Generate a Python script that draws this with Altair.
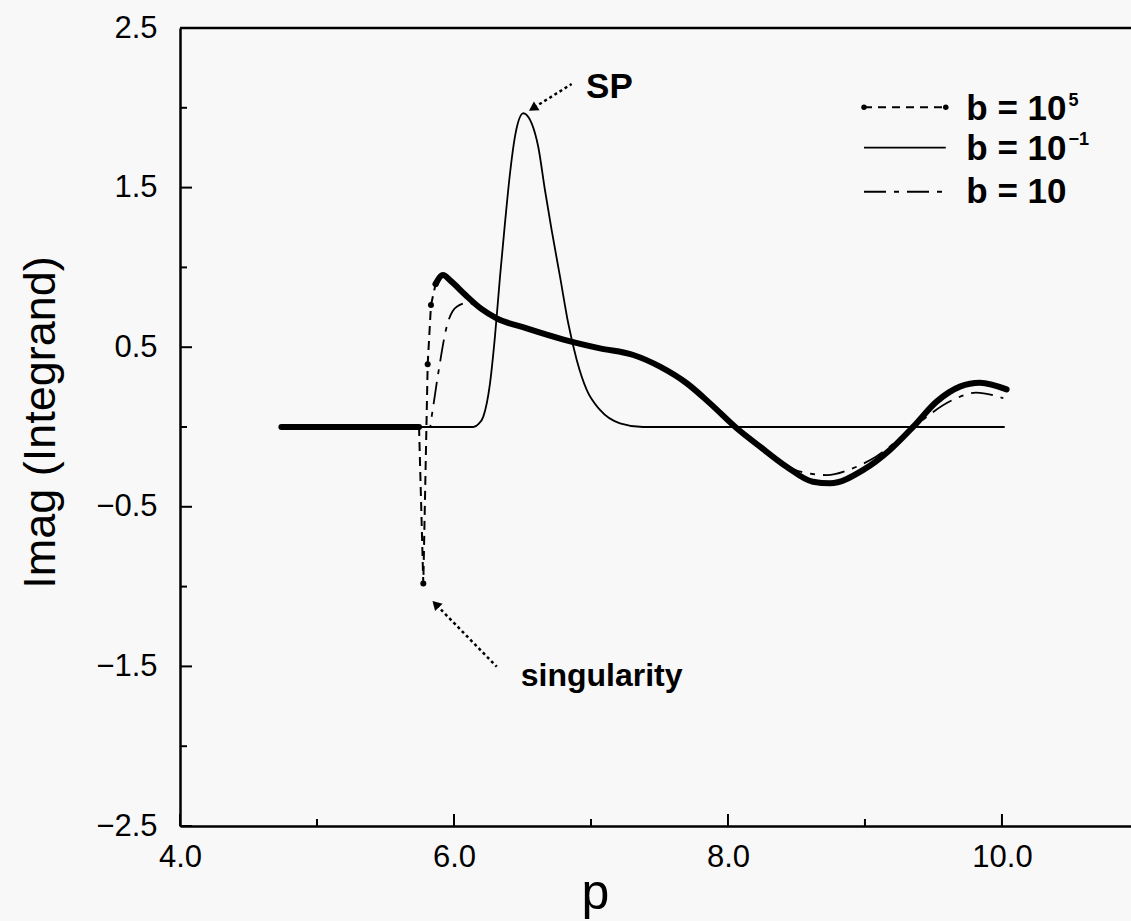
import altair as alt
import pandas as pd

# ---- curves ----
# b = 1e5: flat lead-in (dense samples), sparse jump through the singularity, dense main curve
b5_flat_x = [4.74, 5.745]
b5_flat_y = [0.0, 0.0]
b5_jump_x = [5.745, 5.776, 5.808, 5.832, 5.866]
b5_jump_y = [0.0, -0.98, 0.393, 0.764, 0.896]
b5_x = [5.866, 5.92, 5.97, 6.08, 6.20, 6.312, 6.531, 6.80, 7.066, 7.309, 7.504,
        7.699, 7.869, 8.064, 8.234, 8.428, 8.62, 8.745, 8.988, 9.182, 9.353,
        9.523, 9.693, 9.839, 10.034]
b5_y = [0.896, 0.952, 0.92, 0.83, 0.74, 0.681, 0.618, 0.548, 0.493, 0.451, 0.378,
        0.274, 0.148, -0.008, -0.123, -0.249, -0.343, -0.353, -0.269, -0.144, 0.002,
        0.159, 0.253, 0.278, 0.236]

# b = 1e-1 (solid)
bm1_x = [4.74, 6.141, 6.18, 6.214, 6.263, 6.299, 6.336, 6.372, 6.409, 6.445, 6.506,
         6.567, 6.615, 6.664, 6.713, 6.774, 6.834, 6.896, 6.969, 7.066, 7.212, 7.38, 10.02]
bm1_y = [0.0, 0.0, 0.02, 0.065, 0.274, 0.566, 0.942, 1.276, 1.590, 1.819, 1.966,
         1.903, 1.756, 1.485, 1.234, 0.942, 0.650, 0.420, 0.232, 0.107, 0.023, 0.0, 0.0]

# b = 10 (dash-dot)
b10_x = [4.74, 5.825, 5.837, 5.885, 5.947, 6.02, 6.105, 6.20, 6.312, 6.531, 6.80,
         7.066, 7.309, 7.504, 7.699, 7.869, 8.064, 8.234, 8.428, 8.53, 8.72, 8.91,
         9.08, 9.353, 9.64, 9.81, 10.01]
b10_y = [0.0, 0.0, 0.065, 0.336, 0.629, 0.754, 0.779, 0.73, 0.681, 0.618, 0.548,
         0.493, 0.451, 0.378, 0.274, 0.148, -0.008, -0.123, -0.24, -0.28, -0.301, -0.259,
         -0.186, 0.0, 0.169, 0.215, 0.18]

# ---- axes ----
x_ticks_major = [4.0, 6.0, 8.0, 10.0]
x_ticks_minor = [5.0, 7.0, 9.0]
y_ticks_major = [2.5, 1.5, 0.5, -0.5, -1.5, -2.5]
y_ticks_minor = [2.0, 1.0, 0.0, -1.0, -2.0]

# ---- legend ----
leg_line_x1 = 8.993
leg_line_x2 = 9.59
leg_line_y = [2.003, 1.75, 1.474]
leg_text = ["b = 10", "b = 10", "b = 10"]
leg_text_x = 9.74
leg_text_y = [1.924, 1.673, 1.402]
leg_sup = ["5", "\u22121"]
leg_sup_x = 10.485
leg_sup_y = [2.099, 1.855]

# ---- annotations ----
ann_text = ["SP", "singularity"]
ann_x = [6.964, 6.487]
ann_y = [2.061, -1.623]
arrow_sp_x = [6.859, 6.585]
arrow_sp_y = [2.149, 2.002]
arrow_sg_x = [6.312, 5.874]
arrow_sg_y = [-1.502, -1.117]
arrow_head_angle = [238, 316]

W, H = 951, 798
FONT = "Liberation Sans, Arial, Helvetica, sans-serif"

xs = alt.Scale(domain=[4.0, 10.942], nice=False, zero=False)
ys = alt.Scale(domain=[-2.5, 2.5], nice=False, zero=False)

x_axis = alt.Axis(values=x_ticks_major, format=".1f", ticks=False, tickSize=0,
                  grid=False, domainColor="black", domainWidth=2.5,
                  labelFont=FONT, labelFontSize=31, labelColor="black",
                  labelPadding=16, labelFlush=False, labelOverlap=False,
                  title="p", titleFont=FONT, titleFontSize=50, titleFontWeight="normal",
                  titleColor="black", titleX=415, titleY=82, titleBaseline="alphabetic")
y_axis = alt.Axis(values=y_ticks_major, format=".1f", ticks=False, tickSize=0,
                  grid=False, domainColor="black", domainWidth=2.5,
                  labelFont=FONT, labelFontSize=31, labelColor="black",
                  labelPadding=23, labelFlush=False, labelOverlap=False,
                  title="Imag (Integrand)", titleFont=FONT, titleFontSize=45,
                  titleFontWeight="normal", titleColor="black", titleAngle=270,
                  titleX=-126, titleY=394, titleBaseline="alphabetic")


def X(field="x"):
    return alt.X(f"{field}:Q", scale=xs, axis=x_axis)


def Y(field="y"):
    return alt.Y(f"{field}:Q", scale=ys, axis=y_axis)


# data tables
df_b5_dense = pd.DataFrame({
    "x": b5_flat_x + b5_x,
    "y": b5_flat_y + b5_y,
    "seg": ["a"] * len(b5_flat_x) + ["b"] * len(b5_x),
})
df_b5_jump = pd.DataFrame({"x": b5_jump_x, "y": b5_jump_y})
df_bm1 = pd.DataFrame({"x": bm1_x, "y": bm1_y})
df_b10 = pd.DataFrame({"x": b10_x, "y": b10_y})

solid = alt.Chart(df_bm1).mark_line(color="black", strokeWidth=1.8,
                                    interpolate="monotone").encode(x=X(), y=Y())
dashdot = alt.Chart(df_b10).mark_line(color="black", strokeWidth=1.8,
                                      strokeDash=[22, 8, 5, 8],
                                      interpolate="monotone").encode(x=X(), y=Y())
thick = alt.Chart(df_b5_dense).mark_line(color="black", strokeWidth=6,
                                         strokeCap="round", strokeJoin="round",
                                         interpolate="monotone").encode(
    x=X(), y=Y(), detail="seg:N")
jump_line = alt.Chart(df_b5_jump).mark_line(color="black", strokeWidth=2,
                                            strokeDash=[9, 6]).encode(x=X(), y=Y())
jump_pts = alt.Chart(df_b5_jump.iloc[1:]).mark_point(
    filled=True, color="black", size=36, opacity=1).encode(x=X(), y=Y())

# manual inward ticks
df_yt = pd.DataFrame({"y": y_ticks_major + y_ticks_minor,
                      "len": [12] * len(y_ticks_major) + [7] * len(y_ticks_minor)})
yt_major = alt.Chart(df_yt[df_yt["len"] == 12]).mark_rule(color="black", strokeWidth=2).encode(
    y=Y(), x=alt.value(0), x2=alt.value(12))
yt_minor = alt.Chart(df_yt[df_yt["len"] == 7]).mark_rule(color="black", strokeWidth=2).encode(
    y=Y(), x=alt.value(0), x2=alt.value(7))
df_xt_major = pd.DataFrame({"x": x_ticks_major})
df_xt_minor = pd.DataFrame({"x": x_ticks_minor})
xt_major = alt.Chart(df_xt_major).mark_rule(color="black", strokeWidth=2).encode(
    x=X(), y=alt.value(H), y2=alt.value(H - 12))
xt_minor = alt.Chart(df_xt_minor).mark_rule(color="black", strokeWidth=2).encode(
    x=X(), y=alt.value(H), y2=alt.value(H - 7))
top_frame = alt.Chart(pd.DataFrame({"k": [0]})).mark_rule(color="black", strokeWidth=2.5).encode(
    x=alt.value(0), x2=alt.value(W), y=alt.value(0))

# legend
df_leg = pd.DataFrame({
    "x": [leg_line_x1] * 3, "x2": [leg_line_x2] * 3, "y": leg_line_y,
    "kind": ["b5", "bm1", "b10"],
})
leg_b5 = alt.Chart(df_leg[df_leg.kind == "b5"]).mark_rule(
    color="black", strokeWidth=2, strokeDash=[8, 6]).encode(x=X(), x2="x2:Q", y=Y())
leg_bm1 = alt.Chart(df_leg[df_leg.kind == "bm1"]).mark_rule(
    color="black", strokeWidth=1.8).encode(x=X(), x2="x2:Q", y=Y())
leg_b10 = alt.Chart(df_leg[df_leg.kind == "b10"]).mark_rule(
    color="black", strokeWidth=1.8, strokeDash=[22, 8, 5, 8]).encode(x=X(), x2="x2:Q", y=Y())
df_leg_dots = pd.DataFrame({"x": [leg_line_x1, leg_line_x2], "y": [leg_line_y[0]] * 2})
leg_dots = alt.Chart(df_leg_dots).mark_point(filled=True, color="black", size=30,
                                             opacity=1).encode(x=X(), y=Y())
df_leg_text = pd.DataFrame({"x": [leg_text_x] * 3, "y": leg_text_y, "t": leg_text})
leg_labels = alt.Chart(df_leg_text).mark_text(
    font=FONT, fontSize=35, fontWeight="bold", align="left", baseline="alphabetic",
    color="black").encode(x=X(), y=Y(), text="t:N")
df_leg_sup = pd.DataFrame({"x": [leg_sup_x] * 2, "y": leg_sup_y, "t": leg_sup})
leg_sups = alt.Chart(df_leg_sup).mark_text(
    font=FONT, fontSize=18, fontWeight="bold", align="left", baseline="top",
    color="black").encode(x=X(), y=Y(), text="t:N")

# annotations
df_ann = pd.DataFrame({"x": ann_x, "y": ann_y, "t": ann_text})
ann_sp = alt.Chart(df_ann.iloc[:1]).mark_text(
    font=FONT, fontSize=35, fontWeight="bold", align="left", baseline="alphabetic",
    color="black").encode(x=X(), y=Y(), text="t:N")
ann_sg = alt.Chart(df_ann.iloc[1:]).mark_text(
    font=FONT, fontSize=32, fontWeight="bold", align="left", baseline="alphabetic",
    color="black").encode(x=X(), y=Y(), text="t:N")
df_arrows = pd.DataFrame({
    "x": arrow_sp_x + arrow_sg_x, "y": arrow_sp_y + arrow_sg_y,
    "a": ["sp", "sp", "sg", "sg"],
})
arrow_lines = alt.Chart(df_arrows).mark_line(color="black", strokeWidth=2.5,
                                             strokeDash=[3, 3]).encode(
    x=X(), y=Y(), detail="a:N")
df_heads = pd.DataFrame({"x": [arrow_sp_x[1], arrow_sg_x[1]],
                         "y": [arrow_sp_y[1], arrow_sg_y[1]],
                         "ang": arrow_head_angle})
arrow_heads = alt.Chart(df_heads).mark_point(shape="triangle", filled=True, color="black",
                                             size=110, opacity=1).encode(
    x=X(), y=Y(), angle=alt.Angle("ang:Q", scale=None))

chart = alt.layer(
    solid, dashdot, thick, jump_line, jump_pts,
    yt_major, yt_minor, xt_major, xt_minor, top_frame,
    leg_b5, leg_bm1, leg_b10, leg_dots, leg_labels, leg_sups,
    ann_sp, ann_sg, arrow_lines, arrow_heads,
).properties(
    width=W, height=H,
    autosize=alt.AutoSizeParams(type="none"),
    padding={"left": 180, "top": 28, "right": 0, "bottom": 95},
    background="#f8f8f8",
).configure_view(stroke=None)

chart.save("out.html", embed_options={"renderer": "svg", "actions": False})
